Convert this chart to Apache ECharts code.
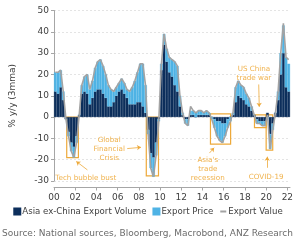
<!DOCTYPE html>
<html>
<head>
<meta charset="utf-8">
<script src="https://cdn.jsdelivr.net/npm/echarts@6/dist/echarts.min.js"></script>
<style>
    html, body { margin: 0; padding: 0; background: #fff; }
    #chart { width: 296px; height: 240px; }
</style>
</head>
<body>
<div id="chart"></div>
<script>
// quarterly data, 2000Q1 .. 2022Q1, % y/y (3mma)
var firstYear = 2000;

var exportVolume = [
    12, 11, 14, 8,      -1, -7, -12, -14,   -9, 1, 11, 12,      11, 6, 9, 12,
    13, 13, 11, 9,      5, 5, 7, 10,        12, 13, 11, 9,      6, 6, 6, 7,
    7, 5, 2, -6,        -17, -19, -12, -1,  22, 34, 26, 21,     19, 15, 12, 5,
    1, -1, -1, 1,       1, 0, 1, 1,         1, 1, 1, 0,         -1, -2, -2, -3,
    -3, -1, 0, 1,       7, 10, 9, 8,        6, 5, 3, 1,         -1, -2, -2, -2,
    2, -8, -3, 2,       8, 20, 30, 14,      12
];

var exportPrice = [
    9, 10, 8, 4,        0, -2, -4, -5,      -3, 0, 4, 7,        9, 7, 8, 11,
    13, 14, 13, 11,     10, 8, 5, 4,        4, 5, 5, 4,         6, 8, 11, 14,
    18, 20, 13, -2,     -7, -9, -6, -1,     3, 5, 6, 7,         8, 11, 12, 5,
    1, -2, -3, 2,       2, 2, 2, 2,         1, 2, 1, -1,        -4, -7, -9, -9,
    -6, -4, -2, 1,      7, 7, 6, 6,         5, 4, 2, 0,         -2, -1, -2, -2,
    -1, -7, -3, 0,      4, 10, 13, 14,      13
];

var exportValue = [
    21, 21, 22, 12,     -1, -9, -16, -19,   -12, 1, 15, 19,     20, 13, 17, 23,
    26, 27, 24, 20,     15, 13, 12, 14,     16, 18, 16, 13,     12, 14, 17, 21,
    25, 25, 15, -8,     -24, -28, -18, -2,  25, 39, 32, 28,     27, 26, 24, 10,
    2, -3, -4, 5,       3, 2, 3, 3,         2, 3, 2, -1,        -5, -9, -11, -12,
    -9, -5, -2, 2,      14, 17, 15, 14,     11, 9, 5, 1,        -3, -3, -4, -4,
    1, -15, -6, 2,      12, 30, 44, 28,     27
];

var quarters = [];
for (var i = 0; i < exportValue.length; i++) {
    quarters.push((firstYear + Math.floor(i / 4)) + 'Q' + (i % 4 + 1));
}

// annotation boxes: [fromYear, toYear, top, bottom]
var boxes = [
    [2001.2, 2002.3, 0, -19],
    [2008.7, 2009.85, 0, -27.6],
    [2014.75, 2016.65, 1.5, -12.7],
    [2018.9, 2020.0, 1, -5],
    [2020.0, 2020.62, 1, -15.5]
];

// annotation texts: [label, year, value]
var notes = [
    ['Tech bubble bust', 2003.0, -28.5],
    ['Global\nFinancial\nCrisis', 2005.2, -15],
    ["Asia's\ntrade\nrecession", 2014.5, -24.5],
    ['US China\ntrade war', 2018.85, 20.4],
    ['COVID-19', 2020.0, -28.4]
];

// arrows: [fromYear, fromValue, toYear, toValue]
var arrows = [
    [2003.15, -24.8, 2002.1, -20.8],
    [2006.9, -14.8, 2008.2, -14.2],
    [2014.65, -16.9, 2015.1, -14.4],
    [2019.3, 15.3, 2019.35, 4.8],
    [2020.1, -23.8, 2020.1, -18.6]
];

var orange = '#eda93a';
var font = 'DejaVu Sans';

var chart = echarts.init(document.getElementById('chart'));

var areaData = boxes.map(function (b) {
    return [{ xAxis: b[0], yAxis: b[2] }, { xAxis: b[1], yAxis: b[3] }];
});

var pointData = notes.map(function (n) {
    return { name: n[0], coord: [n[1], n[2]] };
});

var lineData = arrows.map(function (a) {
    return [{ coord: [a[0], a[1]] }, { coord: [a[2], a[3]] }];
});

chart.setOption({
    animation: false,
    textStyle: { fontFamily: font },
    grid: {
        left: 46,
        right: 4,
        top: 10.5,
        bottom: 59
    },
    xAxis: [{
        type: 'category',
        data: quarters,
        position: 'top',
        show: false
    }, {
        // year scale spanning the same quarters, for ticks and annotations
        type: 'value',
        position: 'bottom',
        min: firstYear,
        max: firstYear + quarters.length / 4,
        interval: 2,
        offset: 6.5,
        axisLine: { lineStyle: { color: '#a6a6a6' } },
        axisTick: { show: true, length: 3, lineStyle: { color: '#a6a6a6' } },
        splitLine: { show: false },
        axisLabel: {
            color: '#404040',
            fontSize: 9,
            margin: 6,
            showMaxLabel: false,
            formatter: function (v) {
                var s = String(Math.round(v) % 100);
                return s.length < 2 ? '0' + s : s;
            }
        }
    }],
    yAxis: {
        type: 'value',
        min: -30,
        max: 50,
        interval: 10,
        name: '% y/y (3mma)',
        nameLocation: 'middle',
        nameGap: 37,
        nameTextStyle: { color: '#404040', fontSize: 9 },
        axisLine: { show: true, lineStyle: { color: '#a6a6a6' } },
        axisTick: { show: true, length: 3, lineStyle: { color: '#a6a6a6' } },
        splitLine: { lineStyle: { color: '#e4e4e4', type: [2, 2] } },
        axisLabel: {
            color: '#404040',
            fontSize: 9,
            margin: 5
        }
    },
    legend: {
        bottom: 19,
        left: 'center',
        itemWidth: 6,
        itemHeight: 6,
        itemGap: 6,
        textStyle: { fontSize: 8.6, color: '#404040', padding: [0, 0, 0, -3] },
        data: [
            { name: 'Asia ex-China Export Volume', icon: 'rect' },
            { name: 'Export Price', icon: 'rect' },
            { name: 'Export Value', itemStyle: { opacity: 0 } }
        ]
    },
    title: {
        text: 'Source: National sources, Bloomberg, Macrobond, ANZ Research',
        left: 2,
        bottom: 2,
        padding: 0,
        textStyle: { fontSize: 9, fontWeight: 'normal', color: '#6b6b6b' }
    },
    series: [{
        name: 'Asia ex-China Export Volume',
        type: 'bar',
        stack: 'trade',
        barCategoryGap: '0%',
        itemStyle: { color: '#0d2f5c', borderColor: '#0d2f5c', borderWidth: 0.3 },
        data: exportVolume
    }, {
        name: 'Export Price',
        type: 'bar',
        stack: 'trade',
        barCategoryGap: '0%',
        itemStyle: { color: '#4fb3e5', borderColor: '#4fb3e5', borderWidth: 0.3 },
        data: exportPrice
    }, {
        name: 'Export Value',
        type: 'line',
        symbol: 'none',
        lineStyle: { color: '#a3a3a3', width: 1.6 },
        itemStyle: { color: '#a3a3a3' },
        data: exportValue
    }, {
        name: 'annotations',
        type: 'line',
        xAxisIndex: 1,
        data: [],
        markArea: {
            silent: true,
            itemStyle: { color: 'rgba(0,0,0,0)', borderColor: orange, borderWidth: 1.2 },
            data: areaData
        },
        markPoint: {
            silent: true,
            symbol: 'rect',
            symbolSize: 0,
            label: {
                show: true,
                position: 'inside',
                formatter: '{b}',
                color: '#f0b24c',
                fontSize: 7.2,
                lineHeight: 9,
                align: 'center'
            },
            data: pointData
        },
        markLine: {
            silent: true,
            symbol: ['none', 'arrow'],
            symbolSize: 4,
            label: { show: false },
            lineStyle: { color: orange, width: 0.8, type: 'solid' },
            data: lineData
        }
    }]
});
</script>
</body>
</html>
